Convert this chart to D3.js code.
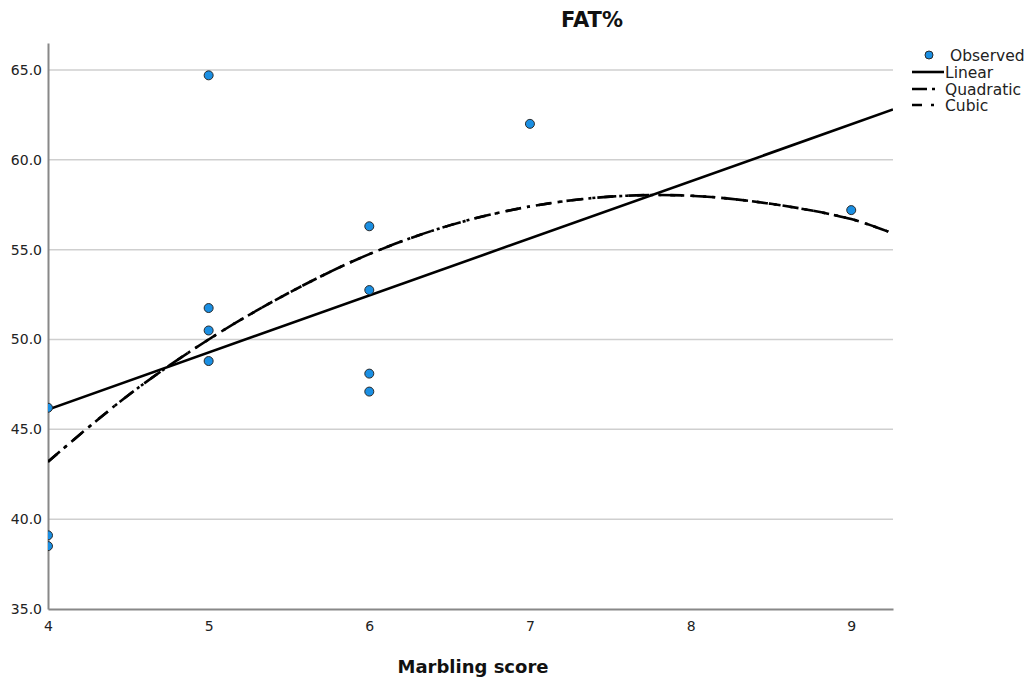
<!DOCTYPE html>
<html><head><meta charset="utf-8">
<script src="https://cdn.jsdelivr.net/npm/d3@7"></script>
<style>body{margin:0;background:#fff;} text{font-family:"DejaVu Sans",Arial,sans-serif;}</style>
</head><body>
<svg id="c" width="1030" height="680"></svg>
<script>
// Observed data
const obsX = [4, 4, 4, 5, 5, 5, 5, 6, 6, 6, 6, 7, 9];
const obsY = [46.2, 39.1, 38.5, 64.7, 51.75, 50.5, 48.8, 56.3, 52.75, 48.1, 47.1, 62.0, 57.2];
// Fitted curves
const linX = [4, 9.26];
const linY = [46.1, 62.8];
const fitX = [4, 4.5, 5, 5.5, 6, 6.5, 7, 7.5, 8, 8.5, 9, 9.26];
const quadY = [43.2, 46.9, 50.0, 52.6, 54.75, 56.35, 57.4, 57.95, 58.0, 57.55, 56.7, 55.9];
const cubicY = [43.2, 46.9, 50.0, 52.6, 54.75, 56.35, 57.4, 57.95, 58.0, 57.55, 56.7, 55.9];
const yTicks = [35, 40, 45, 50, 55, 60, 65];
const xTicks = [4, 5, 6, 7, 8, 9];
const legendItems = ["Observed", "Linear", "Quadratic", "Cubic"];

const svg = d3.select("#c");
const x = d3.scaleLinear().domain([4, 9.26]).range([48, 893]);
const y = d3.scaleLinear().domain([35, 66.5]).range([609, 43]);
const tickFont = "DejaVu Sans, Arial, sans-serif";

svg.append("defs").append("clipPath").attr("id","clip")
  .append("rect").attr("x",48).attr("y",43).attr("width",845).attr("height",566);

// gridlines
svg.append("g").selectAll("line").data(yTicks.filter(d=>d>35)).join("line")
  .attr("x1",48).attr("x2",893).attr("y1",d=>y(d)).attr("y2",d=>y(d))
  .attr("stroke","#cfcfcf").attr("stroke-width",1.5);

// axes
const yAxis = d3.axisLeft(y).tickValues(yTicks).tickFormat(d3.format(".1f")).tickSize(0).tickPadding(6);
const gy = svg.append("g").attr("transform","translate(48,0)").call(yAxis);
gy.select(".domain").attr("stroke","#888").attr("stroke-width",2);
gy.selectAll("text").attr("font-size",14).attr("fill","#222").attr("font-family",tickFont);

const xAxis = d3.axisBottom(x).tickValues(xTicks).tickFormat(d3.format("d")).tickSize(0).tickPadding(12);
const gx = svg.append("g").attr("transform","translate(0,609)").call(xAxis);
gx.select(".domain").attr("stroke","#888").attr("stroke-width",2);
gx.selectAll("text").attr("font-size",14).attr("fill","#222").attr("font-family",tickFont);

const plot = svg.append("g").attr("clip-path","url(#clip)");

// lines
const lin = d3.line().x((d,i)=>x(linX[i])).y(d=>y(d));
plot.append("path").attr("d",lin(linY)).attr("fill","none").attr("stroke","#000").attr("stroke-width",2.6);

const curve = d3.line().x((d,i)=>x(fitX[i])).y(d=>y(d)).curve(d3.curveCatmullRom);
plot.append("path").attr("d",curve(quadY)).attr("fill","none").attr("stroke","#000").attr("stroke-width",2.6)
  .attr("stroke-dasharray","16,6,3,6");
plot.append("path").attr("d",curve(cubicY)).attr("fill","none").attr("stroke","#000").attr("stroke-width",2.6)
  .attr("stroke-dasharray","12,9,3,9");

// points
plot.selectAll("circle").data(obsY).join("circle")
  .attr("cx",(d,i)=>x(obsX[i])).attr("cy",d=>y(d)).attr("r",4.5)
  .attr("fill","#1a8fe3").attr("stroke","#2a2a2a").attr("stroke-width",1);

// title & axis label
svg.append("text").attr("x",592).attr("y",27).attr("text-anchor","middle")
  .attr("font-family","Liberation Sans, Arial, sans-serif")
  .attr("font-size",21).attr("font-weight","bold").attr("fill","#111").text("FAT%");
svg.append("text").attr("x",473).attr("y",673).attr("text-anchor","middle")
  .attr("font-family","Liberation Sans, Arial, sans-serif")
  .attr("font-size",18).attr("font-weight","bold").attr("fill","#111").text("Marbling score");

// legend
const lg = svg.append("g");
const ly = [55, 72, 89, 105];
lg.append("circle").attr("cx",929).attr("cy",ly[0]).attr("r",4).attr("fill","#1a8fe3").attr("stroke","#2a2a2a");
lg.append("line").attr("x1",912).attr("x2",944).attr("y1",ly[1]).attr("y2",ly[1]).attr("stroke","#000").attr("stroke-width",2.6);
lg.append("line").attr("x1",912).attr("x2",944).attr("y1",ly[2]).attr("y2",ly[2]).attr("stroke","#000").attr("stroke-width",2.6).attr("stroke-dasharray","15,5,3,20");
lg.append("line").attr("x1",912).attr("x2",944).attr("y1",ly[3]).attr("y2",ly[3]).attr("stroke","#000").attr("stroke-width",2.6).attr("stroke-dasharray","10,9,3,20");
lg.selectAll("text.l").data(legendItems).join("text").attr("class","l")
  .attr("x",(d,i)=>i===0?950:945).attr("y",(d,i)=>ly[i]+5.5)
  .attr("font-size",15.5).attr("fill","#222").text(d=>d);
</script>
</body></html>
